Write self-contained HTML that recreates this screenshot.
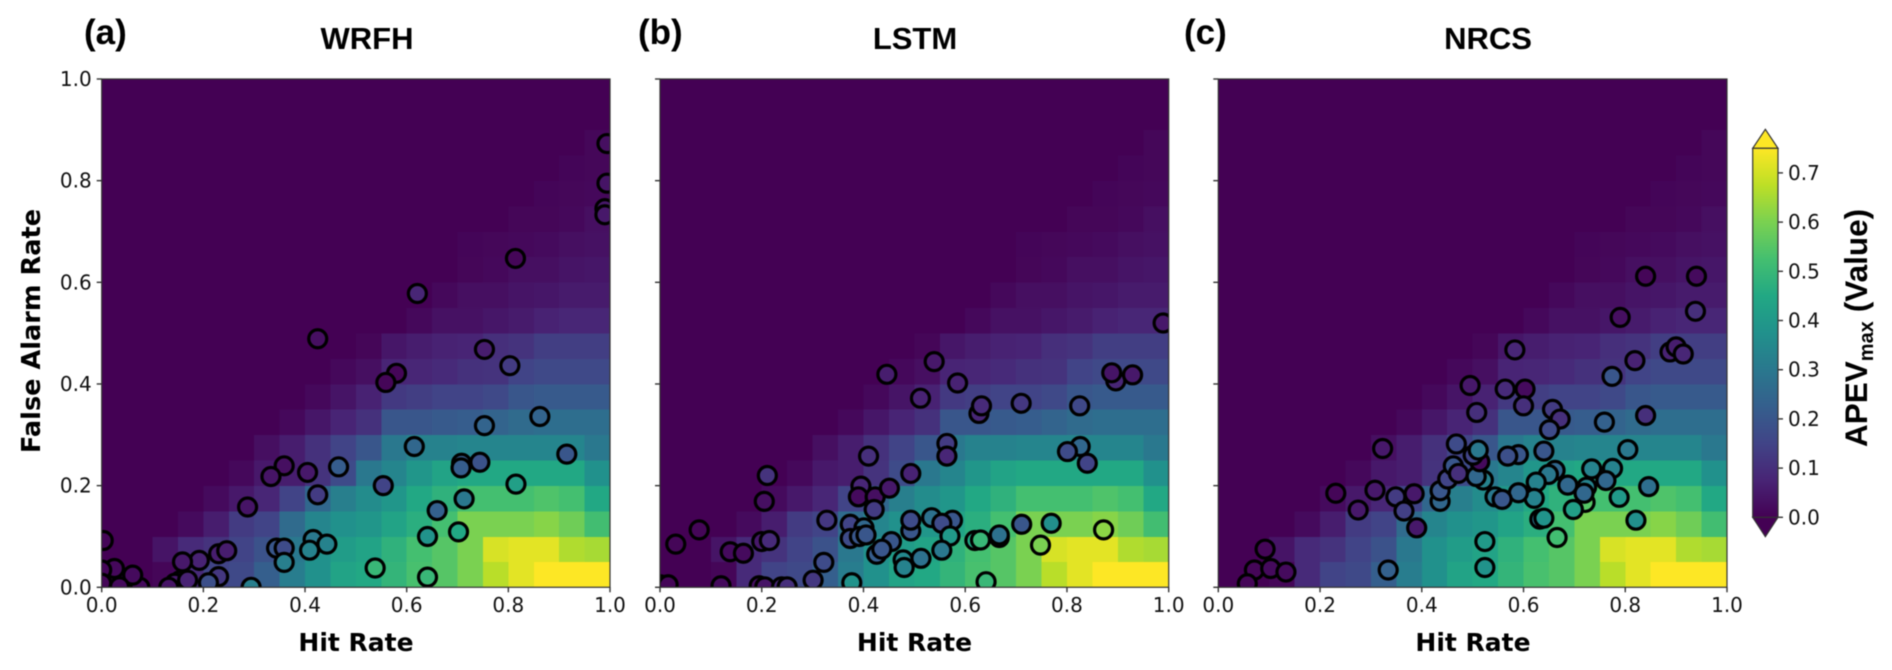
<!DOCTYPE html>
<html lang="en">
<head>
<meta charset="utf-8">
<title>APEV max heatmaps: WRFH, LSTM, NRCS</title>
<style>
html,body{margin:0;padding:0;background:#fff;width:1892px;height:670px;overflow:hidden}
svg{display:block;filter:blur(0.4px)}
.tick{font-family:"DejaVu Sans",sans-serif;font-size:20px;fill:#111}
.axis-title{font-family:"DejaVu Sans",sans-serif;font-weight:bold;font-size:25px;fill:#000}
.panel-title{font-family:"Liberation Sans",sans-serif;font-weight:bold;font-size:31px;fill:#000}
.panel-letter{font-family:"Liberation Sans",sans-serif;font-weight:bold;font-size:35px;fill:#000}
.cbar-title{font-family:"Liberation Sans",sans-serif;font-weight:bold;font-size:31.5px;fill:#000}
</style>
</head>
<body>
<svg id="chart" xmlns="http://www.w3.org/2000/svg" width="1892" height="670" viewBox="0 0 1892 670">
  <defs>
    <linearGradient id="cbar-gradient" x1="0" y1="1" x2="0" y2="0"></linearGradient>
  </defs>
  <rect width="1892" height="670" fill="#fff"/>
  <text class="panel-letter" x="84" y="44">(a)</text>
  <text class="panel-letter" x="638" y="44">(b)</text>
  <text class="panel-letter" x="1184" y="44">(c)</text>
  <text class="panel-title" x="367" y="49" text-anchor="middle">WRFH</text>
  <text class="panel-title" x="915" y="49" text-anchor="middle">LSTM</text>
  <text class="panel-title" x="1488" y="49" text-anchor="middle">NRCS</text>
  <text class="axis-title" style="font-size:25.6px" transform="translate(40,331) rotate(-90)" text-anchor="middle">False Alarm Rate</text>
  <text class="axis-title" x="356" y="651" text-anchor="middle">Hit Rate</text>
  <text class="axis-title" x="914.5" y="651" text-anchor="middle">Hit Rate</text>
  <text class="axis-title" x="1473" y="651" text-anchor="middle">Hit Rate</text>
  <text class="cbar-title" transform="translate(1867,447) rotate(-90)">APEV<tspan font-size="20" dy="6">max</tspan><tspan dx="9" dy="-6">(Value)</tspan></text>
</svg>
<script>
var xTicks = [0, 0.2, 0.4, 0.6, 0.8, 1];
var xTickLabels = ['0.0', '0.2', '0.4', '0.6', '0.8', '1.0'];
var yTicks = [0, 0.2, 0.4, 0.6, 0.8, 1];
var yTickLabels = ['0.0', '0.2', '0.4', '0.6', '0.8', '1.0'];
var cbarTicks = [0, 0.1, 0.2, 0.3, 0.4, 0.5, 0.6, 0.7];
var cbarTickLabels = ['0.0', '0.1', '0.2', '0.3', '0.4', '0.5', '0.6', '0.7'];

// APEVmax per cell, first row is the bottom of the plot (false alarm rate 0-0.05)
var heatRows = [
[0,0,.01,.09,.15,.165,.225,.315,.375,.435,.45,.49,.53,.55,.6,.67,.72,.75,.75,.75],
[0,0,.04,.09,.11,.15,.19,.3,.375,.41,.435,.48,.525,.55,.6,.705,.72,.72,.66,.65],
[0,0,0,.02,.06,.13,.15,.26,.34,.375,.39,.435,.47,.525,.6,.6,.6,.615,.585,.52],
[0,0,0,0,.02,.05,.08,.15,.25,.32,.36,.39,.45,.48,.525,.525,.525,.54,.525,.45],
[0,0,0,0,0,.015,.05,.06,.11,.17,.3,.34,.39,.435,.45,.45,.45,.45,.45,.375],
[0,0,0,0,0,0,.03,.06,.105,.15,.2,.3,.33,.33,.34,.34,.34,.34,.34,.3],
[0,0,0,0,0,0,0,.015,.045,.075,.105,.2,.2,.21,.22,.24,.26,.27,.27,.27],
[0,0,0,0,0,0,0,0,.015,.04,.07,.125,.135,.15,.15,.165,.2,.21,.21,.21],
[0,0,0,0,0,0,0,0,0,.015,.03,.075,.08,.09,.105,.11,.15,.165,.165,.165],
[0,0,0,0,0,0,0,0,0,0,.01,.045,.06,.07,.075,.1,.11,.135,.135,.135],
[0,0,0,0,0,0,0,0,0,0,0,0,.015,.035,.035,.045,.055,.07,.08,.08],
[0,0,0,0,0,0,0,0,0,0,0,0,0,.015,.03,.03,.04,.045,.055,.055],
[0,0,0,0,0,0,0,0,0,0,0,0,0,0,.01,.015,.03,.03,.04,.045],
[0,0,0,0,0,0,0,0,0,0,0,0,0,0,.008,.012,.015,.02,.03,.035],
[0,0,0,0,0,0,0,0,0,0,0,0,0,0,0,0,.01,.01,.015,.03],
[0,0,0,0,0,0,0,0,0,0,0,0,0,0,0,0,0,.008,.012,.015],
[0,0,0,0,0,0,0,0,0,0,0,0,0,0,0,0,0,0,.008,.012],
[0,0,0,0,0,0,0,0,0,0,0,0,0,0,0,0,0,0,0,.012],
[0,0,0,0,0,0,0,0,0,0,0,0,0,0,0,0,0,0,0,0],
[0,0,0,0,0,0,0,0,0,0,0,0,0,0,0,0,0,0,0,0]
];

var wrfhHit = [.425,.359,.333,.405,.466,.425,.287,.416,.443,.409,.344,.359,.359,.294,.23,.246,.23,.21,.192,.159,.154,.144,.169,.132,.075,.061,.035,.025,.003,0,0,.753,.803,.58,.559,.862,.753,.615,.915,.708,.744,.707,.554,.815,.713,.66,.641,.702,.538,.641,.814,.621,.994,.994,.99,.99];
var wrfhFar = [.489,.239,.218,.226,.237,.182,.158,.094,.085,.073,.077,.077,.049,0,.066,.072,.021,.009,.053,.05,.013,.008,.014,0,0,.024,.001,.037,.092,.034,.008,.468,.436,.421,.403,.336,.318,.277,.262,.244,.246,.235,.2,.203,.174,.151,.1,.109,.038,.02,.647,.578,.873,.795,.745,.733];
var wrfhValue = [.03,.03,.04,.05,.22,.13,.04,.3,.33,.33,.2,.17,.32,.32,.06,.06,.12,.18,.07,.05,.06,.05,.07,.04,.02,.02,.02,.015,.01,.01,.01,.06,.13,.01,.01,.24,.24,.25,.2,.22,.19,.22,.15,.42,.3,.23,.38,.45,.5,.5,.01,.08,.03,.04,.05,.05];

var lstmHit = [.211,.205,.077,.031,.138,.164,.2,.215,.12,.195,.206,.239,.25,.301,.322,.328,.377,.374,.374,.401,.392,.405,.395,.39,.423,.421,.41,.451,.493,.493,.493,.455,.426,.436,.478,.48,.513,0,.016,.71,.825,.627,.632,.512,.564,.564,.826,.801,.84,.575,.534,.554,.57,.554,.711,.769,.667,.667,.619,.63,.748,.872,.641,.446,.539,.585,.989,.896,.888,.929];
var lstmFar = [.22,.169,.113,.085,.07,.067,.09,.092,.003,.003,.001,.001,.001,.014,.049,.132,.009,.124,.096,.117,.1,.103,.199,.178,.178,.153,.258,.195,.224,.111,.132,.09,.065,.075,.054,.039,.057,.005,.005,.362,.357,.342,.357,.372,.283,.258,.277,.267,.244,.132,.137,.126,.101,.073,.124,.126,.098,.103,.092,.093,.083,.113,.011,.419,.444,.402,.52,.406,.422,.418];
var lstmValue = [.11,.03,.01,.01,.02,.02,.05,.09,.02,.03,.04,.08,.1,.12,.17,.12,.38,.15,.17,.25,.2,.2,.08,.02,.03,.13,.1,.05,.07,.2,.17,.2,.22,.2,.35,.33,.28,.01,.01,.12,.16,.08,.09,.07,.13,.08,.25,.17,.15,.2,.28,.17,.4,.3,.2,.37,.25,.28,.45,.5,.6,.62,.5,.06,.05,.07,.05,.08,.04,.05];

var nrcsHit = [.323,.231,.308,.275,.349,.385,.365,.39,.334,.092,.071,.103,.133,.057,.436,.436,.451,.462,.472,.468,.508,.524,.524,.495,.508,.564,.603,.6,.657,.672,.651,.759,.84,.805,.775,.734,.762,.846,.788,.724,.721,.698,.719,.687,.662,.649,.625,.621,.59,.544,.558,.64,.59,.569,.632,.64,.666,.821,.521,.507,.514,.501,.511,.79,.84,.94,.938,.819,.888,.9,.914,.774,.583];
var nrcsFar = [.273,.185,.191,.152,.178,.184,.15,.117,.034,.075,.034,.037,.03,.007,.169,.19,.213,.239,.224,.282,.218,.09,.039,.397,.344,.39,.39,.357,.35,.331,.31,.325,.338,.271,.234,.233,.21,.198,.177,.197,.167,.153,.185,.201,.23,.222,.207,.175,.186,.178,.173,.268,.261,.258,.134,.136,.098,.132,.211,.218,.247,.26,.27,.531,.612,.612,.543,.446,.463,.473,.459,.415,.467];
var nrcsValue = [.05,.01,.05,.05,.13,.05,.14,.05,.23,.01,.01,.02,.02,.01,.25,.2,.15,.2,.1,.17,.25,.4,.38,.05,.1,.09,.02,.1,.13,.1,.17,.23,.1,.3,.33,.33,.25,.27,.4,.33,.55,.42,.25,.25,.25,.3,.33,.33,.25,.3,.2,.2,.2,.18,.3,.38,.52,.37,.33,.25,.02,.15,.3,.03,.01,.02,.1,.07,.07,.06,.08,.2,.08];

var NS = 'http://www.w3.org/2000/svg';
var svg = document.getElementById('chart');
var viridisStops = ['#440154','#482475','#414487','#355f8d','#2a788e','#21918c','#22a884','#44bf70','#7ad151','#bddf26','#fde725'];
var valueMax = 0.75;

function hexToRgb(h) {
  return [parseInt(h.substr(1, 2), 16), parseInt(h.substr(3, 2), 16), parseInt(h.substr(5, 2), 16)];
}
function colorFor(v) {
  var t = Math.max(0, Math.min(1, v / valueMax)) * (viridisStops.length - 1);
  var i = Math.min(Math.floor(t), viridisStops.length - 2);
  var f = t - i;
  var a = hexToRgb(viridisStops[i]);
  var b = hexToRgb(viridisStops[i + 1]);
  return 'rgb(' + Math.round(a[0] + (b[0] - a[0]) * f) + ',' + Math.round(a[1] + (b[1] - a[1]) * f) + ',' + Math.round(a[2] + (b[2] - a[2]) * f) + ')';
}
function make(tag, attrs, parent, text) {
  var el = document.createElementNS(NS, tag);
  for (var k in attrs) { el.setAttribute(k, attrs[k]); }
  if (text !== undefined) { el.textContent = text; }
  (parent || svg).appendChild(el);
  return el;
}

var plotTop = 79;
var plotBottom = 587.3;
function yScale(v) { return plotBottom - (plotBottom - plotTop) * v; }

function drawPanel(key, left, right, hits, fars, values, showYLabels) {
  function xScale(v) { return left + (right - left) * v; }
  var group = make('g', {});
  
  

  var clip = make('clipPath', { id: 'clip-' + key }, group);
  make('rect', { x: left, y: plotTop, width: right - left, height: plotBottom - plotTop }, clip);

  var heat = make('g', { 'shape-rendering': 'crispEdges' }, group);
  
  
  var nRows = heatRows.length;
  for (var r = 0; r < nRows; r++) {
    var nCols = heatRows[r].length;
    for (var c = 0; c < nCols; c++) {
      var x0 = xScale(c / nCols);
      var x1 = xScale((c + 1) / nCols);
      var y0 = yScale((r + 1) / nRows);
      var y1 = yScale(r / nRows);
      var cell = make('rect', { x: x0, y: y0, width: x1 - x0 + 0.3, height: y1 - y0 + 0.3, fill: colorFor(heatRows[r][c]) }, heat);
      
      
    }
  }

  var pts = make('g', { 'clip-path': 'url(#clip-' + key + ')' }, group);
  
  
  for (var i = 0; i < hits.length; i++) {
    var dot = make('circle', { cx: xScale(hits[i]), cy: yScale(fars[i]), r: 9, fill: colorFor(values[i]), stroke: '#000', 'stroke-width': 3.2 }, pts);
    
    
  }

  var frame = make('rect', { x: left, y: plotTop, width: right - left, height: plotBottom - plotTop, fill: 'none', stroke: '#333', 'stroke-width': 1.2 }, group);
  
  

  for (var t = 0; t < xTicks.length; t++) {
    var tx = xScale(xTicks[t]);
    var xMark = make('line', { x1: tx, x2: tx, y1: plotBottom, y2: plotBottom + 5, stroke: '#333', 'stroke-width': 1.4 }, group);
    
    
    var xLabel = make('text', { x: tx, y: 612, 'text-anchor': 'middle', 'class': 'tick' }, group, xTickLabels[t]);
    
    
  }
  for (var u = 0; u < yTicks.length; u++) {
    var ty = yScale(yTicks[u]);
    var yMark = make('line', { x1: left - 5, x2: left, y1: ty, y2: ty, stroke: '#333', 'stroke-width': 1.4 }, group);
    
    
    if (showYLabels) {
      var yLabel = make('text', { x: left - 10, y: ty + 7, 'text-anchor': 'end', 'class': 'tick' }, group, yTickLabels[u]);
      
      
    }
  }
}

drawPanel('wrfh', 101.7, 610, wrfhHit, wrfhFar, wrfhValue, true);
drawPanel('lstm', 660, 1168.7, lstmHit, lstmFar, lstmValue, false);
drawPanel('nrcs', 1218.3, 1727, nrcsHit, nrcsFar, nrcsValue, false);

function drawColorbar() {
  var left = 1752.7, right = 1778, top = 148.3, bottom = 517.3;
  function cbarY(v) { return bottom - (bottom - top) * v / valueMax; }
  var grad = document.getElementById('cbar-gradient');
  for (var s = 0; s < viridisStops.length; s++) {
    make('stop', { offset: s / (viridisStops.length - 1), 'stop-color': viridisStops[s] }, grad);
  }
  var group = make('g', {});
  
  
  var mid = (left + right) / 2;
  var over = make('polygon', { points: left + ',' + top + ' ' + mid + ',' + (top - 19) + ' ' + right + ',' + top, fill: '#fde725', stroke: '#333', 'stroke-width': 1.2 }, group);
  
  
  var under = make('polygon', { points: left + ',' + bottom + ' ' + mid + ',' + (bottom + 19.4) + ' ' + right + ',' + bottom, fill: '#440154', stroke: '#333', 'stroke-width': 1.2 }, group);
  
  
  var bar = make('rect', { x: left, y: top, width: right - left, height: bottom - top, fill: 'url(#cbar-gradient)', stroke: '#333', 'stroke-width': 1.2 }, group);
  
  
  for (var i = 0; i < cbarTicks.length; i++) {
    var y = cbarY(cbarTicks[i]);
    var mark = make('line', { x1: right, x2: right + 5, y1: y, y2: y, stroke: '#333', 'stroke-width': 1.4 }, group);
    
    
    var label = make('text', { x: right + 10, y: y + 7, 'class': 'tick' }, group, cbarTickLabels[i]);
    
    
  }
}
drawColorbar();
</script>
</body>
</html>
